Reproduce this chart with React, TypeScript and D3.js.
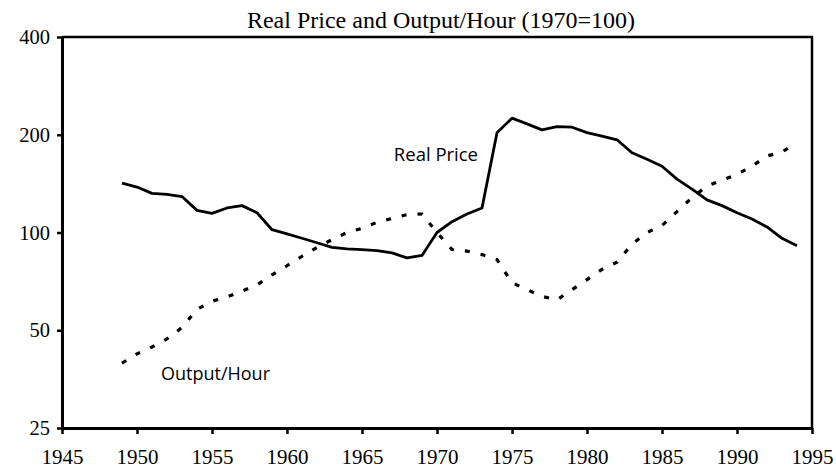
import { useEffect, useRef } from "react";
import * as d3 from "d3";

// index values, 1970 = 100, one point per year from 1949
const years = d3.range(1949, 1995);

const realPrice = [
  142, 138, 132, 131, 129, 117, 114.5, 119, 121, 115,
  102, 99, 96, 93, 90, 89, 88.6, 88, 86.5, 83.5,
  85, 100, 108, 114, 119, 203, 225, 216, 207, 212,
  211, 203, 198, 193, 176, 168, 160, 146, 136, 126,
  121, 115, 110, 104, 96, 91,
];

const outputHour = [
  39.6, 42.3, 44.4, 47, 51, 58, 61.4, 63.3, 66, 69,
  74, 79, 84.5, 90, 95, 100, 103, 107.5, 110.5, 113.5,
  114, 100, 88.6, 87.6, 85.5, 82.5, 70, 66.7, 63.6, 62,
  66.7, 71.6, 77, 81, 92, 100, 105, 116, 128, 139,
  145, 151, 160, 172, 177, 189,
];

const yTicks = [25, 50, 100, 200, 400];
const xTicks = d3.range(1945, 2000, 5);

const title = "Real Price and Output/Hour (1970=100)";

export default function App() {
  const ref = useRef<SVGSVGElement>(null);

  useEffect(() => {
    const el = ref.current;
    if (!el) return;
    const svg = d3.select(el);
    svg.selectAll("*").remove();

    const width = 836;
    const height = 470;
    const margin = { top: 37, right: 24, bottom: 42, left: 62 };

    const x = d3
      .scaleLinear()
      .domain([1945, 1995])
      .range([margin.left, width - margin.right]);

    const y = d3
      .scaleLog()
      .base(2)
      .domain([25, 400])
      .range([height - margin.bottom, margin.top]);

    const serif = "'Liberation Serif', 'Times New Roman', serif";
    const sans = "'Open Sans', sans-serif";

    // frame: top and right edges
    svg
      .append("path")
      .attr("d", `M${x(1945)},${y(400)}H${x(1995)}V${y(25)}`)
      .attr("fill", "none")
      .attr("stroke", "#000")
      .attr("stroke-width", 2.5);

    const yAxis = svg
      .append("g")
      .attr("transform", `translate(${margin.left},0)`)
      .call(
        d3
          .axisLeft(y)
          .tickValues(yTicks)
          .tickFormat(d3.format("d"))
          .tickSize(5)
          .tickSizeOuter(0)
      );
    yAxis.select(".domain").attr("stroke-width", 3);
    yAxis.selectAll("line").attr("stroke-width", 2.5);
    yAxis
      .selectAll("text")
      .attr("font-family", serif)
      .attr("font-size", 20.5)
      .attr("fill", "#000")
      .attr("x", -12);

    const xAxis = svg
      .append("g")
      .attr("transform", `translate(0,${height - margin.bottom})`)
      .call(
        d3
          .axisBottom(x)
          .tickValues(xTicks)
          .tickFormat(d3.format("d"))
          .tickSize(6)
          .tickSizeOuter(0)
      );
    xAxis.select(".domain").attr("stroke-width", 3);
    xAxis.selectAll("line").attr("stroke-width", 2.5);
    xAxis
      .selectAll("text")
      .attr("font-family", serif)
      .attr("font-size", 21)
      .attr("fill", "#000")
      .attr("y", 21);

    const line = d3
      .line<number>()
      .x((_, i) => x(years[i]))
      .y((d) => y(d));

    svg
      .append("path")
      .datum(outputHour)
      .attr("d", line)
      .attr("fill", "none")
      .attr("stroke", "#000")
      .attr("stroke-width", 3.2)
      .attr("stroke-dasharray", "5,11");

    svg
      .append("path")
      .datum(realPrice)
      .attr("d", line)
      .attr("fill", "none")
      .attr("stroke", "#000")
      .attr("stroke-width", 2.8)
      .attr("stroke-linejoin", "round");

    svg
      .append("text")
      .attr("x", 441)
      .attr("y", 28)
      .attr("text-anchor", "middle")
      .attr("font-family", serif)
      .attr("font-size", 24)
      .text(title);

    svg
      .append("text")
      .attr("x", x(1974) - 19)
      .attr("y", y(realPrice[0]) - 22)
      .attr("text-anchor", "end")
      .attr("font-family", sans)
      .attr("font-size", 18.5)
      .text("Real Price");

    svg
      .append("text")
      .attr("x", x(1951.6))
      .attr("y", 380)
      .attr("font-family", sans)
      .attr("font-size", 18)
      .text("Output/Hour");
  }, []);

  return (
    <svg
      ref={ref}
      width={836}
      height={470}
      style={{ position: "absolute", left: 0, top: 0, background: "#fff" }}
    />
  );
}
